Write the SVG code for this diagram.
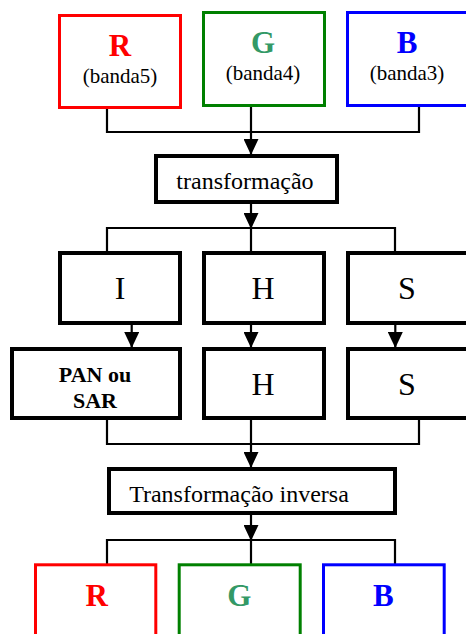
<svg xmlns="http://www.w3.org/2000/svg" width="466" height="634" viewBox="0 0 466 634">
<style>
.bg{fill:#fff}
.cbox{fill:#fff;stroke-width:3}
.kbox{fill:#fff;stroke:#000;stroke-width:4}
.r{stroke:#ff0000}.g{stroke:#008000}.b{stroke:#0000ff}
.big{font-weight:bold;font-size:31px}
.sub{font-size:21px;fill:#000}
.lab{font-size:24px;fill:#000}
.let{font-size:32px;fill:#000}
.pan{font-weight:bold;font-size:22px;fill:#000}
.conn path{fill:none;stroke:#000;stroke-width:2.2}
</style>
<defs>
<marker id="ah" markerUnits="userSpaceOnUse" markerWidth="16" markerHeight="15" refX="15" refY="7.5" orient="auto" viewBox="0 0 16 15">
<path d="M0,0 L16,7.5 L0,15 z" fill="#000"/>
</marker>
</defs>
<rect class="bg" x="0" y="0" width="466" height="634"/>
<g class="conn" id="connectors">
<path d="M107,109 V132 H419 V107"/>
<path d="M251,107 V154" marker-end="url(#ah)"/>
<path d="M251,204 V228" marker-end="url(#ah)"/>
<path d="M107,252 V228 H395 V252"/>
<path d="M251,228 V252"/>
<path d="M131.7,325 V347" marker-end="url(#ah)"/>
<path d="M251,325 V347" marker-end="url(#ah)"/>
<path d="M395.3,325 V347" marker-end="url(#ah)"/>
<path d="M107,420 V444 H419 V420"/>
<path d="M251,420 V467" marker-end="url(#ah)"/>
<path d="M251,515 V540" marker-end="url(#ah)"/>
<path d="M107,565 V540 H395 V568"/>
<path d="M251,540 V565"/>
</g>
<g font-family="Liberation Serif, Times New Roman, serif" text-anchor="middle">
<g id="R1"><rect class="cbox r" x="59.5" y="15.5" width="121" height="92"/><text class="big" x="120" y="56" fill="#ff0000">R</text><text class="sub" x="120" y="83">(banda5)</text></g>
<g id="G1"><rect class="cbox g" x="203.5" y="12.5" width="121" height="93"/><text class="big" x="263" y="53" fill="#339966">G</text><text class="sub" x="263" y="80">(banda4)</text></g>
<g id="B1"><rect class="cbox b" x="347.5" y="12.5" width="121" height="93"/><text class="big" x="407" y="53" fill="#0000ff">B</text><text class="sub" x="407" y="80">(banda3)</text></g>
<g id="transf"><rect class="kbox" x="156" y="156" width="181" height="46"/><text class="lab" x="245" y="189">transformação</text></g>
<g id="I"><rect class="kbox" x="60" y="253" width="120" height="70"/><text class="let" x="120" y="299">I</text></g>
<g id="H1"><rect class="kbox" x="204" y="253" width="120" height="70"/><text class="let" x="263" y="299">H</text></g>
<g id="S1"><rect class="kbox" x="348" y="253" width="120" height="70"/><text class="let" x="407" y="299">S</text></g>
<g id="PAN"><rect class="kbox" x="12" y="349" width="168" height="69"/><text class="pan" x="95" y="382">PAN ou</text><text class="pan" x="95" y="408">SAR</text></g>
<g id="H2"><rect class="kbox" x="204" y="349" width="120" height="69"/><text class="let" x="263" y="395">H</text></g>
<g id="S2"><rect class="kbox" x="348" y="349" width="120" height="69"/><text class="let" x="407" y="395">S</text></g>
<g id="inv"><rect class="kbox" x="109" y="469" width="286" height="44"/><text class="lab" x="239" y="502">Transformação inversa</text></g>
<g id="R2"><rect class="cbox r" x="35.5" y="564.8" width="120.3" height="100"/><text class="big" x="96.7" y="606" fill="#ff0000">R</text></g>
<g id="G2"><rect class="cbox g" x="179.2" y="564.8" width="121" height="100"/><text class="big" x="239.3" y="606" fill="#339966">G</text></g>
<g id="B2"><rect class="cbox b" x="323.5" y="564.8" width="120.7" height="100"/><text class="big" x="383.3" y="606" fill="#0000ff">B</text></g>
</g>
</svg>
